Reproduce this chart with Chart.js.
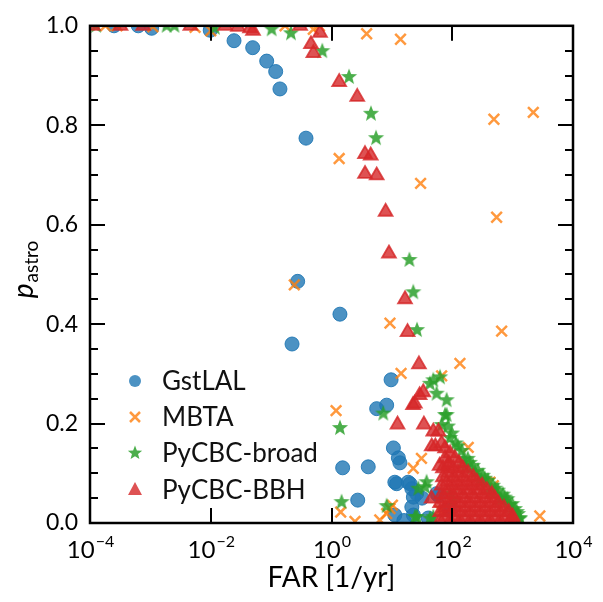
<!DOCTYPE html>
<html>
<head>
<meta charset="utf-8">
<script src="https://cdn.jsdelivr.net/npm/chart.js@4.4.0/dist/chart.umd.min.js"></script>
<style>
  html, body { margin: 0; padding: 0; background: #fff; }
  #wrap { width: 603px; height: 602px; }
</style>
</head>
<body>
<div id="wrap"><canvas id="farChart" width="603" height="602"></canvas></div>
<script>
// FAR [1/yr] vs p_astro
const gstlalFar = [2.5e-4, 6.3e-4, 1.05e-3, 9.8e-3, 0.0243, 0.0495, 0.0845, 0.119, 0.140, 0.378,
    0.275, 1.38, 0.222, 9.7, 5.6, 8.2, 10.6, 12.8, 13.6, 1.53,
    4.06, 12.0, 20.0, 21.4, 25.7, 2.72, 21.4, 22.7, 11.2, 55,
    59, 85, 91, 31.6, 15.8, 40, 11.2, 18.6, 22.7];
const gstlalP = [1.0, 1.0, 0.995, 0.991, 0.970, 0.956, 0.929, 0.908, 0.873, 0.774,
    0.486, 0.420, 0.360, 0.288, 0.230, 0.237, 0.151, 0.131, 0.121, 0.111,
    0.113, 0.079, 0.079, 0.069, 0.059, 0.046, 0.032, 0.016, 0.016, 0.059,
    0.055, 0.029, 0.026, 0.050, 0.005, 0.010, 0.082, 0.082, 0.052];

const mbtaFar = [1.8e-4, 2.8e-4, 1.1e-3, 5.5e-3, 0.010, 0.17, 0.50, 0.63, 3.82, 13.9,
    490, 2200, 1.34, 29.9, 543, 0.242, 9.3, 658, 134, 14.2,
    66.7, 1.19, 30.9, 22.6, 184, 422, 479, 372, 1.42, 2.45,
    6.3, 8.2, 9.3, 10.2, 2820, 1100, 62.7];
const mbtaP = [1.0, 1.0, 0.998, 0.997, 0.990, 1.0, 0.993, 1.0, 0.984, 0.973,
    0.812, 0.826, 0.733, 0.683, 0.615, 0.479, 0.402, 0.386, 0.321, 0.301,
    0.296, 0.226, 0.130, 0.110, 0.152, 0.082, 0.075, 0.082, 0.022, 0.003,
    0.006, 0.019, 0.029, 0.036, 0.014, 0.003, 0.026];

const broadFar = [1.26e-4, 1.86e-3, 2.5e-3, 0.0117, 0.102, 0.213, 0.703, 1.95, 4.51, 5.46,
    19.5, 22.6, 26.1, 62.7, 48.5, 42.7, 55, 80.7, 75.9, 66.7,
    91.8, 144, 153, 162, 238, 288, 308, 422, 617, 660,
    847, 905, 1023, 124, 195, 347, 513, 741, 1175, 1318,
    104, 91.8, 1.38, 7.2, 1.47, 8.2, 35.4, 37.6, 27.4, 24.2,
    26, 42.7, 48.5, 80.7,
    85, 99, 115, 181, 220, 267, 322, 390, 472, 571,
    690, 815, 985, 1090, 1230, 1300];
const broadP = [1.0, 1.0, 1.0, 0.996, 0.993, 0.985, 0.949, 0.897, 0.823, 0.774,
    0.529, 0.464, 0.388, 0.293, 0.287, 0.280, 0.260, 0.247, 0.217, 0.197,
    0.171, 0.145, 0.128, 0.111, 0.102, 0.082, 0.085, 0.062, 0.049, 0.046,
    0.036, 0.036, 0.019, 0.154, 0.121, 0.089, 0.069, 0.051, 0.022, 0.010,
    0.046, 0.059, 0.191, 0.220, 0.042, 0.034, 0.072, 0.082, 0.069, 0.012,
    0.012, 0.009, 0.012, 0.217,
    0.194, 0.180, 0.160, 0.129, 0.115, 0.105, 0.095, 0.085, 0.075, 0.065,
    0.057, 0.048, 0.038, 0.028, 0.018, 0.008];

const bbhFar = [1.12e-4, 3.2e-4, 7.6e-4, 4.6e-3, 0.0174, 0.0282, 0.0447, 0.0501, 0.302, 0.646,
    0.457, 0.501, 1.34, 2.67, 3.59, 4.46, 3.59, 5.6, 7.87, 8.95,
    16.5, 18.2, 28.1, 33.1, 28.8, 22.4, 24, 12.4, 33.9, 48.5,
    59, 45.7, 52.5, 66.7, 61.7, 85, 45.5,
    63, 92, 134, 197, 289, 422, 618, 905, 1050,
    76, 111, 163, 238, 349, 511, 748, 1000,
    63, 92, 134, 197, 289, 422, 618, 860,
    76, 111, 163, 238, 349, 511, 720,
    63, 92, 134, 197, 289, 422, 580,
    76, 111, 163, 238, 349, 511,
    67, 100, 145, 213, 313, 454,
    82, 120, 176, 257, 375,
    67, 100, 145, 213, 313,
    82, 120, 176, 257,
    70, 104, 150, 222,
    85, 124, 182,
    70, 104, 150,
    88, 130,
    76, 111,
    92,
    76];
const bbhP = [1.0, 1.0, 1.0, 1.0, 1.0, 0.998, 0.995, 0.990, 1.0, 0.986,
    0.963, 0.945, 0.887, 0.857, 0.742, 0.739, 0.702, 0.699, 0.626, 0.542,
    0.450, 0.384, 0.319, 0.263, 0.257, 0.237, 0.240, 0.198, 0.198, 0.184,
    0.184, 0.154, 0.154, 0.160, 0.115, 0.115, 0.049,
    0.005, 0.005, 0.005, 0.005, 0.005, 0.005, 0.005, 0.005, 0.005,
    0.013, 0.013, 0.013, 0.013, 0.013, 0.013, 0.013, 0.013,
    0.022, 0.022, 0.022, 0.022, 0.022, 0.022, 0.022, 0.022,
    0.031, 0.031, 0.031, 0.031, 0.031, 0.031, 0.031,
    0.040, 0.040, 0.040, 0.040, 0.040, 0.040, 0.040,
    0.049, 0.049, 0.049, 0.049, 0.049, 0.049,
    0.058, 0.058, 0.058, 0.058, 0.058, 0.058,
    0.066, 0.066, 0.066, 0.066, 0.066,
    0.075, 0.075, 0.075, 0.075, 0.075,
    0.083, 0.083, 0.083, 0.083,
    0.092, 0.092, 0.092, 0.092,
    0.101, 0.101, 0.101,
    0.110, 0.110, 0.110,
    0.120, 0.120,
    0.130, 0.130,
    0.140,
    0.150];

const seriesNames = ['GstLAL', 'MBTA', 'PyCBC-broad', 'PyCBC-BBH'];
const xTickExps = [-4, -2, 0, 2, 4];

const BLUE = 'rgba(31,119,180,0.8)';
const ORANGE = 'rgba(255,127,14,0.8)';
const GREEN = 'rgba(44,160,44,0.85)';
const RED = 'rgba(214,39,40,0.8)';
const FONT = 'Lato, "DejaVu Sans", sans-serif';

function toPoints(far, p) {
    return far.map((x, i) => ({ x: x, y: p[i] }));
}

// five pointed star, like matplotlib's '*'
function starPath(ctx, cx, cy, outer, inner) {
    ctx.beginPath();
    for (let i = 0; i < 10; i++) {
        const r = i % 2 === 0 ? outer : inner;
        const a = -Math.PI / 2 + i * Math.PI / 5;
        const px = cx + r * Math.cos(a), py = cy + r * Math.sin(a);
        if (i === 0) ctx.moveTo(px, py); else ctx.lineTo(px, py);
    }
    ctx.closePath();
}

function makeStar(size, outer, inner) {
    const c = document.createElement('canvas');
    c.width = size; c.height = size;
    const g = c.getContext('2d');
    starPath(g, size / 2, size / 2, outer, inner);
    g.fillStyle = GREEN;
    g.fill();
    return c;
}
const starImg = makeStar(18, 8.5, 3.6);

const decorations = {
    id: 'decorations',
    afterDraw(chart) {
        const { ctx, chartArea: a, scales: { x, y } } = chart;
        ctx.save();
        ctx.strokeStyle = '#000';
        ctx.lineWidth = 2;
        ctx.beginPath();
        xTickExps.forEach(e => {
            const px = Math.round(x.getPixelForValue(Math.pow(10, e)));
            ctx.moveTo(px, a.bottom); ctx.lineTo(px, a.bottom - 15);
            ctx.moveTo(px, a.top); ctx.lineTo(px, a.top + 15);
        });
        for (let i = 0; i <= 20; i++) {
            const len = i % 4 === 0 ? 15 : 8;
            const py = Math.round(y.getPixelForValue(i * 0.05));
            ctx.moveTo(a.left, py); ctx.lineTo(a.left + len, py);
            ctx.moveTo(a.right, py); ctx.lineTo(a.right - len, py);
        }
        ctx.stroke();
        ctx.lineWidth = 2.5;
        ctx.strokeRect(a.left, a.top, a.right - a.left, a.bottom - a.top);

        // x tick labels 10^n
        ctx.fillStyle = '#000';
        ctx.textBaseline = 'alphabetic';
        ctx.textAlign = 'left';
        xTickExps.forEach(e => {
            const px = x.getPixelForValue(Math.pow(10, e));
            const expText = e < 0 ? '\u2212' + Math.abs(e) : String(e);
            ctx.font = '24px ' + FONT;
            const wBase = ctx.measureText('10').width;
            ctx.font = '16px ' + FONT;
            const wExp = ctx.measureText(expText).width;
            const x0 = px - (wBase + wExp) / 2;
            ctx.font = '24px ' + FONT;
            ctx.fillText('10', x0, 558);
            ctx.font = '16px ' + FONT;
            ctx.fillText(expText, x0 + wBase + 1, 547);
        });

        // axis titles
        ctx.font = '28px ' + FONT;
        ctx.textAlign = 'center';
        ctx.fillText('FAR [1/yr]', (a.left + a.right) / 2, 587);

        ctx.save();
        ctx.translate(30, 270);
        ctx.rotate(-Math.PI / 2);
        ctx.textAlign = 'left';
        ctx.font = 'italic 28px ' + FONT;
        const wp = ctx.measureText('p').width;
        ctx.font = '19px ' + FONT;
        const ws = ctx.measureText('astro').width;
        const sx = -(wp + ws) / 2;
        ctx.font = 'italic 28px ' + FONT;
        ctx.fillText('p', sx, 3);
        ctx.font = '19px ' + FONT;
        ctx.fillText('astro', sx + wp + 1, 8);
        ctx.restore();

        // legend
        const lx = 135, rows = [381, 417, 453, 490];
        ctx.font = '26px ' + FONT;
        ctx.textBaseline = 'middle';
        ctx.textAlign = 'left';
        rows.forEach((ry, i) => {
            if (i === 0) {
                ctx.fillStyle = BLUE;
                ctx.beginPath(); ctx.arc(lx, ry, 6, 0, Math.PI * 2); ctx.fill();
            } else if (i === 1) {
                ctx.strokeStyle = ORANGE; ctx.lineWidth = 2.5;
                ctx.beginPath();
                ctx.moveTo(lx - 5, ry - 5); ctx.lineTo(lx + 5, ry + 5);
                ctx.moveTo(lx + 5, ry - 5); ctx.lineTo(lx - 5, ry + 5);
                ctx.stroke();
            } else if (i === 2) {
                ctx.fillStyle = GREEN;
                starPath(ctx, lx, ry, 7.5, 3.2); ctx.fill();
            } else {
                ctx.fillStyle = RED;
                ctx.beginPath();
                ctx.moveTo(lx, ry - 8); ctx.lineTo(lx + 7, ry + 5); ctx.lineTo(lx - 7, ry + 5);
                ctx.closePath(); ctx.fill();
            }
            ctx.fillStyle = '#111';
            ctx.fillText(seriesNames[i], 162, ry + 1);
        });
        ctx.restore();
    }
};

const ctx = document.getElementById('farChart').getContext('2d');
new Chart(ctx, {
    type: 'scatter',
    data: {
        datasets: [
            {
                label: seriesNames[0], data: toPoints(gstlalFar, gstlalP), order: 4,
                pointStyle: 'circle', pointRadius: 7,
                backgroundColor: BLUE, borderColor: 'rgba(31,119,180,0.9)', borderWidth: 1
            },
            {
                label: seriesNames[1], data: toPoints(mbtaFar, mbtaP), order: 3,
                pointStyle: 'crossRot', pointRadius: 7.5,
                backgroundColor: ORANGE, borderColor: ORANGE, borderWidth: 2.5
            },
            {
                label: seriesNames[2], data: toPoints(broadFar, broadP), order: 2,
                pointStyle: starImg, pointRadius: 8,
                backgroundColor: GREEN, borderColor: GREEN
            },
            {
                label: seriesNames[3], data: toPoints(bbhFar, bbhP), order: 1,
                pointStyle: 'triangle', pointRadius: 8,
                backgroundColor: RED, borderColor: RED, borderWidth: 1.8
            }
        ]
    },
    options: {
        responsive: false,
        animation: false,
        layout: { padding: { top: 18, right: 30, left: 0, bottom: 0 } },
        datasets: { scatter: { clip: 0 } },
        plugins: { legend: { display: false }, tooltip: { enabled: false } },
        scales: {
            x: {
                type: 'logarithmic', min: 1e-4, max: 1e4,
                grid: { display: false, drawTicks: false },
                border: { display: false },
                ticks: { display: false },
                afterFit: scale => { scale.height = 79; }
            },
            y: {
                min: 0, max: 1,
                grid: { display: false, drawTicks: false },
                border: { display: false },
                ticks: {
                    stepSize: 0.2, padding: 12, color: '#000',
                    font: { family: FONT, size: 23 },
                    callback: v => v.toFixed(1)
                },
                afterFit: scale => { scale.width = 90; }
            }
        }
    },
    plugins: [decorations]
});
</script>
</body>
</html>
